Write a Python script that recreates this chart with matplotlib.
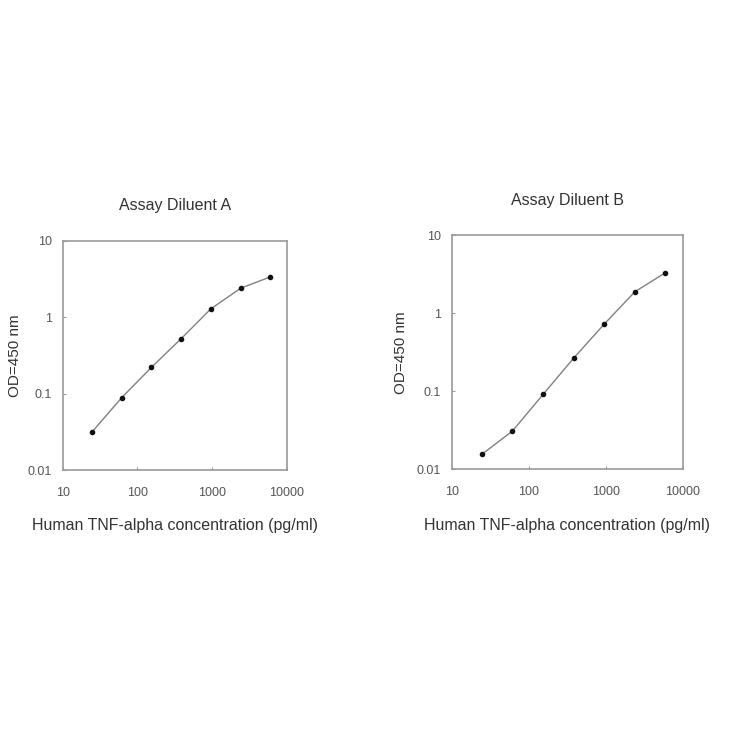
import numpy as np
import matplotlib

matplotlib.use("Agg")
import matplotlib.pyplot as plt
from matplotlib.ticker import FixedLocator, FixedFormatter, NullLocator

plt.rcParams["font.family"] = ["Liberation Sans", "DejaVu Sans"]

# TNF-alpha standard curve (2.5-fold dilution series)
conc = [24.6, 61.4, 153.6, 384, 960, 2400, 6000]
od_a = [0.0315, 0.0887, 0.221, 0.525, 1.29, 2.40, 3.38]
od_b = [0.0156, 0.031, 0.0912, 0.266, 0.726, 1.88, 3.30]

x_ticks = [10, 100, 1000, 10000]
x_labels = ["10", "100", "1000", "10000"]
y_ticks = [0.01, 0.1, 1, 10]
y_labels = ["0.01", "0.1", "1", "10"]

fig = plt.figure(figsize=(7.3, 7.3), dpi=100)

panels = [
    ("Assay Diluent A", od_a, [0.086, 0.356, 0.307, 0.314], 4),
    ("Assay Diluent B", od_b, [0.619, 0.357, 0.316, 0.321], 6),
]

for title, od, rect, ylpad in panels:
    ax = fig.add_axes(rect)
    ax.plot(conc, od, color="#808080", lw=1.0, zorder=2)
    ax.plot(conc, od, ls="none", marker="o", ms=3.0, color="#111111", zorder=3)
    ax.set_xscale("log")
    ax.set_yscale("log")
    ax.set_xlim(10, 10000)
    ax.set_ylim(0.01, 10)
    ax.xaxis.set_major_locator(FixedLocator(x_ticks))
    ax.xaxis.set_major_formatter(FixedFormatter(x_labels))
    ax.yaxis.set_major_locator(FixedLocator(y_ticks))
    ax.yaxis.set_major_formatter(FixedFormatter(y_labels))
    ax.xaxis.set_minor_locator(NullLocator())
    ax.yaxis.set_minor_locator(NullLocator())
    for s in ax.spines.values():
        s.set_color("#999999")
        s.set_linewidth(1.2)
    ax.tick_params(direction="in", length=2, color="#999999",
                   labelcolor="#555555", labelsize=9)
    ax.tick_params(axis="x", pad=12)
    ax.tick_params(axis="y", pad=8)
    ax.set_title(title, fontsize=11.5, color="#333333", pad=22)
    ax.set_xlabel("Human TNF-alpha concentration (pg/ml)", fontsize=11.5,
                  color="#333333", labelpad=14)
    ax.set_ylabel("OD=450 nm", fontsize=11, color="#333333", labelpad=ylpad)

fig.savefig("out.png", dpi=100, facecolor="white")
